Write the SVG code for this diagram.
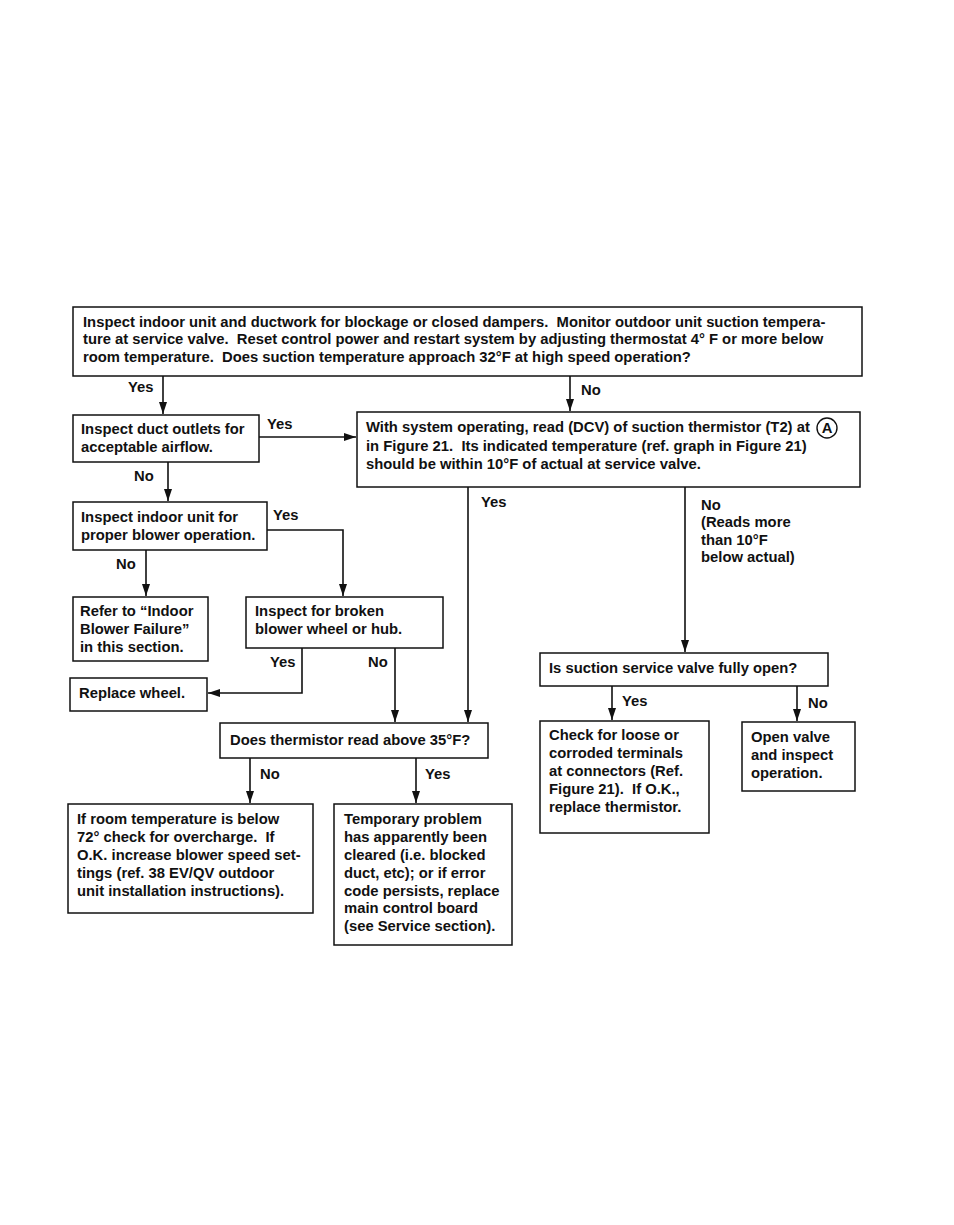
<svg xmlns="http://www.w3.org/2000/svg" width="954" height="1225" viewBox="0 0 954 1225">
<defs>
<marker id="ah" viewBox="0 0 12 8" refX="12" refY="4" markerWidth="12" markerHeight="8" markerUnits="userSpaceOnUse" orient="auto">
<path d="M0,0 L12,4 L0,8 z" fill="#111"/>
</marker>
</defs>
<style>
.box{fill:#fff;stroke:#111;stroke-width:1.5}
.t{font-family:"Liberation Sans",Arial,sans-serif;font-size:14.8px;font-weight:bold;fill:#111;white-space:pre}
.c{fill:none;stroke:#111;stroke-width:1.6}
</style>
<rect width="954" height="1225" fill="#fff"/>
<g id="connectors">
<line class="c" x1="163" y1="376" x2="163" y2="414" marker-end="url(#ah)"/>
<line class="c" x1="570" y1="376" x2="570" y2="411" marker-end="url(#ah)"/>
<line class="c" x1="259" y1="437" x2="356" y2="437" marker-end="url(#ah)"/>
<line class="c" x1="168" y1="462" x2="168" y2="501" marker-end="url(#ah)"/>
<polyline class="c" points="267,530 343,530 343,596" marker-end="url(#ah)"/>
<line class="c" x1="146" y1="550" x2="146" y2="596" marker-end="url(#ah)"/>
<polyline class="c" points="302,648 302,693 208,693" marker-end="url(#ah)"/>
<line class="c" x1="395" y1="648" x2="395" y2="722" marker-end="url(#ah)"/>
<line class="c" x1="468" y1="487" x2="468" y2="722" marker-end="url(#ah)"/>
<line class="c" x1="250" y1="758" x2="250" y2="803" marker-end="url(#ah)"/>
<line class="c" x1="416" y1="758" x2="416" y2="803" marker-end="url(#ah)"/>
<line class="c" x1="685" y1="487" x2="685" y2="652" marker-end="url(#ah)"/>
<line class="c" x1="612" y1="686" x2="612" y2="720" marker-end="url(#ah)"/>
<line class="c" x1="797" y1="686" x2="797" y2="721" marker-end="url(#ah)"/>
<text class="t" x="128" y="392">Yes</text>
<text class="t" x="581" y="395">No</text>
<text class="t" x="267" y="429">Yes</text>
<text class="t" x="134" y="481">No</text>
<text class="t" x="273" y="520">Yes</text>
<text class="t" x="116" y="569">No</text>
<text class="t" x="270" y="667">Yes</text>
<text class="t" x="368" y="667">No</text>
<text class="t" x="481" y="507">Yes</text>
<text class="t" x="260" y="779">No</text>
<text class="t" x="425" y="779">Yes</text>
<text class="t" x="701" y="510">No</text>
<text class="t" x="701" y="527">(Reads more</text>
<text class="t" x="701" y="545">than 10°F</text>
<text class="t" x="701" y="562">below actual)</text>
<text class="t" x="622" y="706">Yes</text>
<text class="t" x="808" y="708">No</text>
</g>
<g id="n1">
<rect class="box" x="73" y="307" width="789" height="69"/>
<text class="t" x="83" y="327">Inspect indoor unit and ductwork for blockage or closed dampers.  Monitor outdoor unit suction tempera-</text>
<text class="t" x="83" y="344">ture at service valve.  Reset control power and restart system by adjusting thermostat 4° F or more below</text>
<text class="t" x="83" y="362">room temperature.  Does suction temperature approach 32°F at high speed operation?</text>
</g>
<g id="n2">
<rect class="box" x="73" y="415" width="186" height="47"/>
<text class="t" x="81" y="434">Inspect duct outlets for</text>
<text class="t" x="81" y="452">acceptable airflow.</text>
</g>
<g id="n3">
<rect class="box" x="357" y="412" width="503" height="75"/>
<text class="t" x="366" y="432">With system operating, read (DCV) of suction thermistor (T2) at</text>
<circle cx="827" cy="428" r="10" fill="none" stroke="#111" stroke-width="1.4"/>
<text class="t" x="827" y="433" text-anchor="middle">A</text>
<text class="t" x="366" y="451">in Figure 21.  Its indicated temperature (ref. graph in Figure 21)</text>
<text class="t" x="366" y="469">should be within 10°F of actual at service valve.</text>
</g>
<g id="n4">
<rect class="box" x="73" y="502" width="194" height="48"/>
<text class="t" x="81" y="522">Inspect indoor unit for</text>
<text class="t" x="81" y="540">proper blower operation.</text>
</g>
<g id="n5">
<rect class="box" x="73" y="597" width="135" height="64"/>
<text class="t" x="80" y="616">Refer to “Indoor</text>
<text class="t" x="80" y="634">Blower Failure”</text>
<text class="t" x="80" y="652">in this section.</text>
</g>
<g id="n6">
<rect class="box" x="246" y="597" width="197" height="51"/>
<text class="t" x="255" y="616">Inspect for broken</text>
<text class="t" x="255" y="634">blower wheel or hub.</text>
</g>
<g id="n7">
<rect class="box" x="70" y="678" width="137" height="33"/>
<text class="t" x="79" y="698">Replace wheel.</text>
</g>
<g id="n8">
<rect class="box" x="220" y="723" width="268" height="35"/>
<text class="t" x="230" y="745">Does thermistor read above 35°F?</text>
</g>
<g id="n9">
<rect class="box" x="68" y="804" width="245" height="109"/>
<text class="t" x="77" y="824">If room temperature is below</text>
<text class="t" x="77" y="842">72° check for overcharge.  If</text>
<text class="t" x="77" y="860">O.K. increase blower speed set-</text>
<text class="t" x="77" y="878">tings (ref. 38 EV/QV outdoor</text>
<text class="t" x="77" y="896">unit installation instructions).</text>
</g>
<g id="n10">
<rect class="box" x="334" y="804" width="178" height="141"/>
<text class="t" x="344" y="824">Temporary problem</text>
<text class="t" x="344" y="842">has apparently been</text>
<text class="t" x="344" y="860">cleared (i.e. blocked</text>
<text class="t" x="344" y="878">duct, etc); or if error</text>
<text class="t" x="344" y="896">code persists, replace</text>
<text class="t" x="344" y="913">main control board</text>
<text class="t" x="344" y="931">(see Service section).</text>
</g>
<g id="n11">
<rect class="box" x="540" y="653" width="288" height="33"/>
<text class="t" x="549" y="673">Is suction service valve fully open?</text>
</g>
<g id="n12">
<rect class="box" x="540" y="721" width="169" height="112"/>
<text class="t" x="549" y="740">Check for loose or</text>
<text class="t" x="549" y="758">corroded terminals</text>
<text class="t" x="549" y="776">at connectors (Ref.</text>
<text class="t" x="549" y="794">Figure 21).  If O.K.,</text>
<text class="t" x="549" y="812">replace thermistor.</text>
</g>
<g id="n13">
<rect class="box" x="742" y="722" width="113" height="69"/>
<text class="t" x="751" y="742">Open valve</text>
<text class="t" x="751" y="760">and inspect</text>
<text class="t" x="751" y="778">operation.</text>
</g>
</svg>
